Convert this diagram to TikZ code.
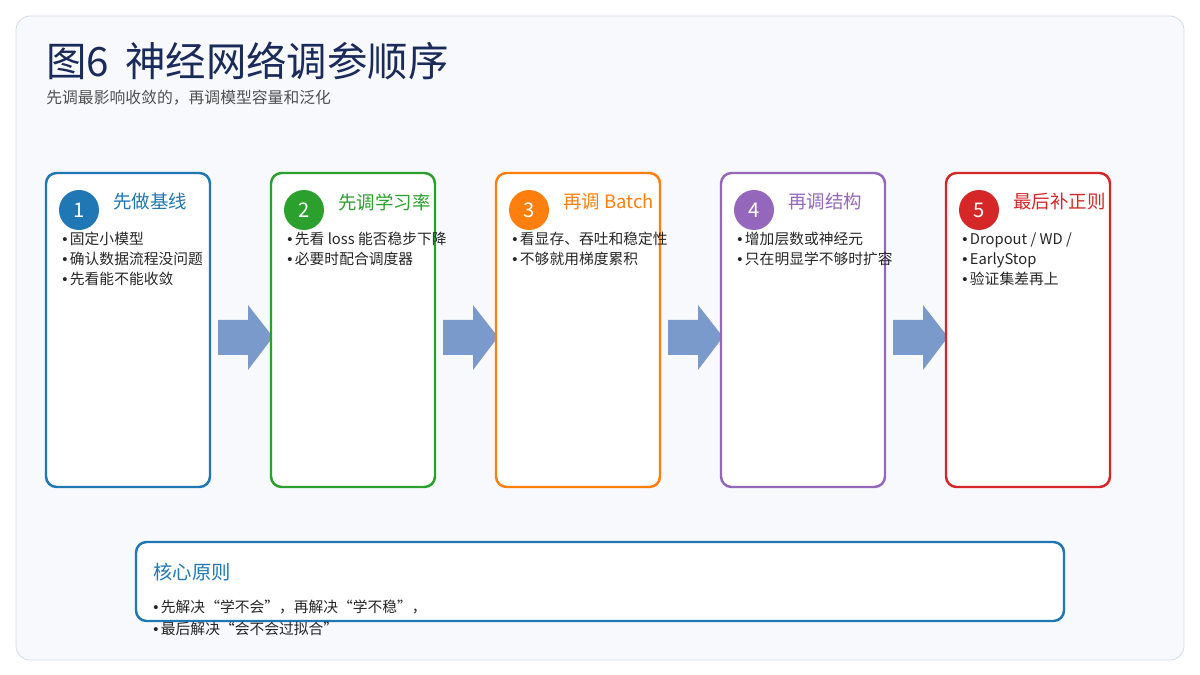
\documentclass[tikz,border=0pt]{standalone}
\usepackage{fontspec}
\setmainfont{Noto Sans CJK SC}
\newfontfamily\bulfont{Liberation Sans}
\newcommand{\bul}{{\bulfont •}\,}
\usetikzlibrary{positioning}
\definecolor{colBg}{RGB}{247,249,252}
\definecolor{colFrame}{RGB}{208,216,230}
\definecolor{colTitle}{RGB}{26,42,90}
\definecolor{colSub}{RGB}{80,80,80}
\definecolor{colArrow}{RGB}{123,154,204}
\definecolor{colA}{RGB}{31,119,180}
\definecolor{colB}{RGB}{44,160,44}
\definecolor{colC}{RGB}{255,127,14}
\definecolor{colD}{RGB}{148,103,189}
\definecolor{colE}{RGB}{214,39,40}
\tikzset{
    card/.style={draw=#1, line width=1.4pt, fill=white, rounded corners=6pt},
    badge/.style={circle, fill=#1, text=white, minimum size=0.8cm, inner sep=0pt, font=\fontsize{11.5}{13}\selectfont},
    head/.style={anchor=west, text=#1, font=\fontsize{10.5}{12}\selectfont, inner sep=0pt},
    bullets/.style={anchor=north west, align=left, font=\fontsize{8.4}{11.4}\selectfont, inner sep=0pt, text=black!85},
}
\begin{document}
\begin{tikzpicture}[x=0.02cm, y=-0.02cm]
    \useasboundingbox (0,0) rectangle (1200,675);
    % --- Panel ---
    \draw[fill=colBg, draw=colFrame, rounded corners=8pt] (16,16) rectangle (1184,660);
    \node[anchor=base west, inner sep=0pt, text=colTitle, font=\fontsize{23}{26}\selectfont] (title) at (46,77) {图6\hspace{0.4em}神经网络调参顺序};
    \node[anchor=base west, inner sep=0pt, text=colSub, font=\fontsize{9}{11}\selectfont] (sub) at (46,104) {先调最影响收敛的，再调模型容量和泛化};

    % --- Arrows (under cards) ---
    \foreach \x in {218, 443, 668, 893} {
        \fill[colArrow] (\x,320) -- (\x+30,320) -- (\x+30,305) -- (\x+55,337) -- (\x+30,370) -- (\x+30,355) -- (\x,355) -- cycle;
    }

    % --- Cards ---
    \foreach \x/\c/\n/\t/\b in {
        46/colA/1/先做基线/{\bul 固定小模型\\\bul 确认数据流程没问题\\\bul 先看能不能收敛},
        271/colB/2/先调学习率/{\bul 先看 loss 能否稳步下降\\\bul 必要时配合调度器},
        496/colC/3/再调 Batch/{\bul 看显存、吞吐和稳定性\\\bul 不够就用梯度累积},
        721/colD/4/再调结构/{\bul 增加层数或神经元\\\bul 只在明显学不够时扩容},
        946/colE/5/最后补正则/{\bul Dropout / WD /\\\bul EarlyStop\\\bul 验证集差再上}} {
        \draw[card=\c] (\x,173) rectangle (\x+164,487);
        \node[badge=\c] (n\n) at (\x+33,210) {\n};
        \node[head=\c] (h\n) at (\x+67,202) {\t};
        \node[bullets] (b\n) at (\x+16,232) {\b};
    }

    % --- Principle box ---
    \draw[card=colA] (136,542) rectangle (1064,621);
    \node[head=colA, font=\fontsize{11}{12}\selectfont] (core) at (153,572) {核心原则};
    \node[bullets] (coreb) at (153,600) {\bul 先解决“学不会”，再解决“学不稳”，\\[1pt]\bul 最后解决“会不会过拟合”};
\end{tikzpicture}
\end{document}
